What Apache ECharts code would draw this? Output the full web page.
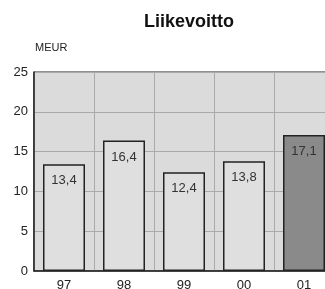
<!DOCTYPE html>
<html lang="fi">
<head>
    <meta charset="UTF-8">
    <title>Liikevoitto</title>
    <style>
        html, body { margin: 0; padding: 0; background: #fff; }
        #main { width: 325px; height: 289px; }
    </style>
</head>
<body>
<div id="main"></div>
<script src="https://cdn.jsdelivr.net/npm/echarts@6/dist/echarts.min.js"></script>
<script>
    // vuodet ja liikevoitto (MEUR)
    const years = ['97', '98', '99', '00', '01'];
    const profit = [13.4, 16.4, 12.4, 13.8, 17.1];
    const yTicks = [0, 5, 10, 15, 20, 25];

    const font = '"Liberation Sans Narrow", "Liberation Sans", Arial, sans-serif';
    const myChart = echarts.init(document.getElementById('main'), null, {renderer: 'canvas'});

    const option = {
        animation: false,
        title: {
            text: 'Liikevoitto',
            left: 139, top: 8,
            textStyle: {fontFamily: font, fontSize: 18, fontWeight: 'bold', color: '#111'}
        },
        graphic: [{
            type: 'text', left: 35, top: 42,
            style: {text: 'MEUR', font: '11px ' + font, fill: '#222'}
        }],
        // ruudukko jatkuu kuvan oikean reunan yli
        grid: {
            left: 34, width: 300, top: 72, height: 199,
            outerBoundsMode: 'none', containLabel: false,
            show: true, backgroundColor: '#dadbda', borderColor: '#222', borderWidth: 1
        },
        xAxis: {
            type: 'category',
            data: years,
            axisLine: {lineStyle: {color: '#222', width: 1.5}},
            axisTick: {show: false},
            axisLabel: {margin: 8, fontFamily: font, fontSize: 13, color: '#222'},
            splitLine: {show: true, lineStyle: {color: '#aaaaaa'}}
        },
        yAxis: {
            type: 'value',
            min: yTicks[0], max: yTicks[yTicks.length - 1], interval: 5,
            axisLine: {show: true, lineStyle: {color: '#222', width: 1.5}},
            axisTick: {show: false},
            axisLabel: {margin: 6, fontFamily: font, fontSize: 13, color: '#222'},
            splitLine: {lineStyle: {color: '#aaaaaa'}}
        },
        series: [{
            type: 'bar',
            barWidth: '70%',
            data: profit.map((v, i) => ({
                value: v,
                itemStyle: {color: i === profit.length - 1 ? '#8a8a8a' : '#dedfde'}
            })),
            itemStyle: {borderColor: '#222', borderWidth: 1.5},
            label: {
                show: true, position: 'insideTop', distance: 10,
                fontFamily: font, fontSize: 13, color: '#333',
                formatter: p => String(p.value).replace('.', ',')
            }
        }]
    };

    myChart.setOption(option);
</script>
</body>
</html>
